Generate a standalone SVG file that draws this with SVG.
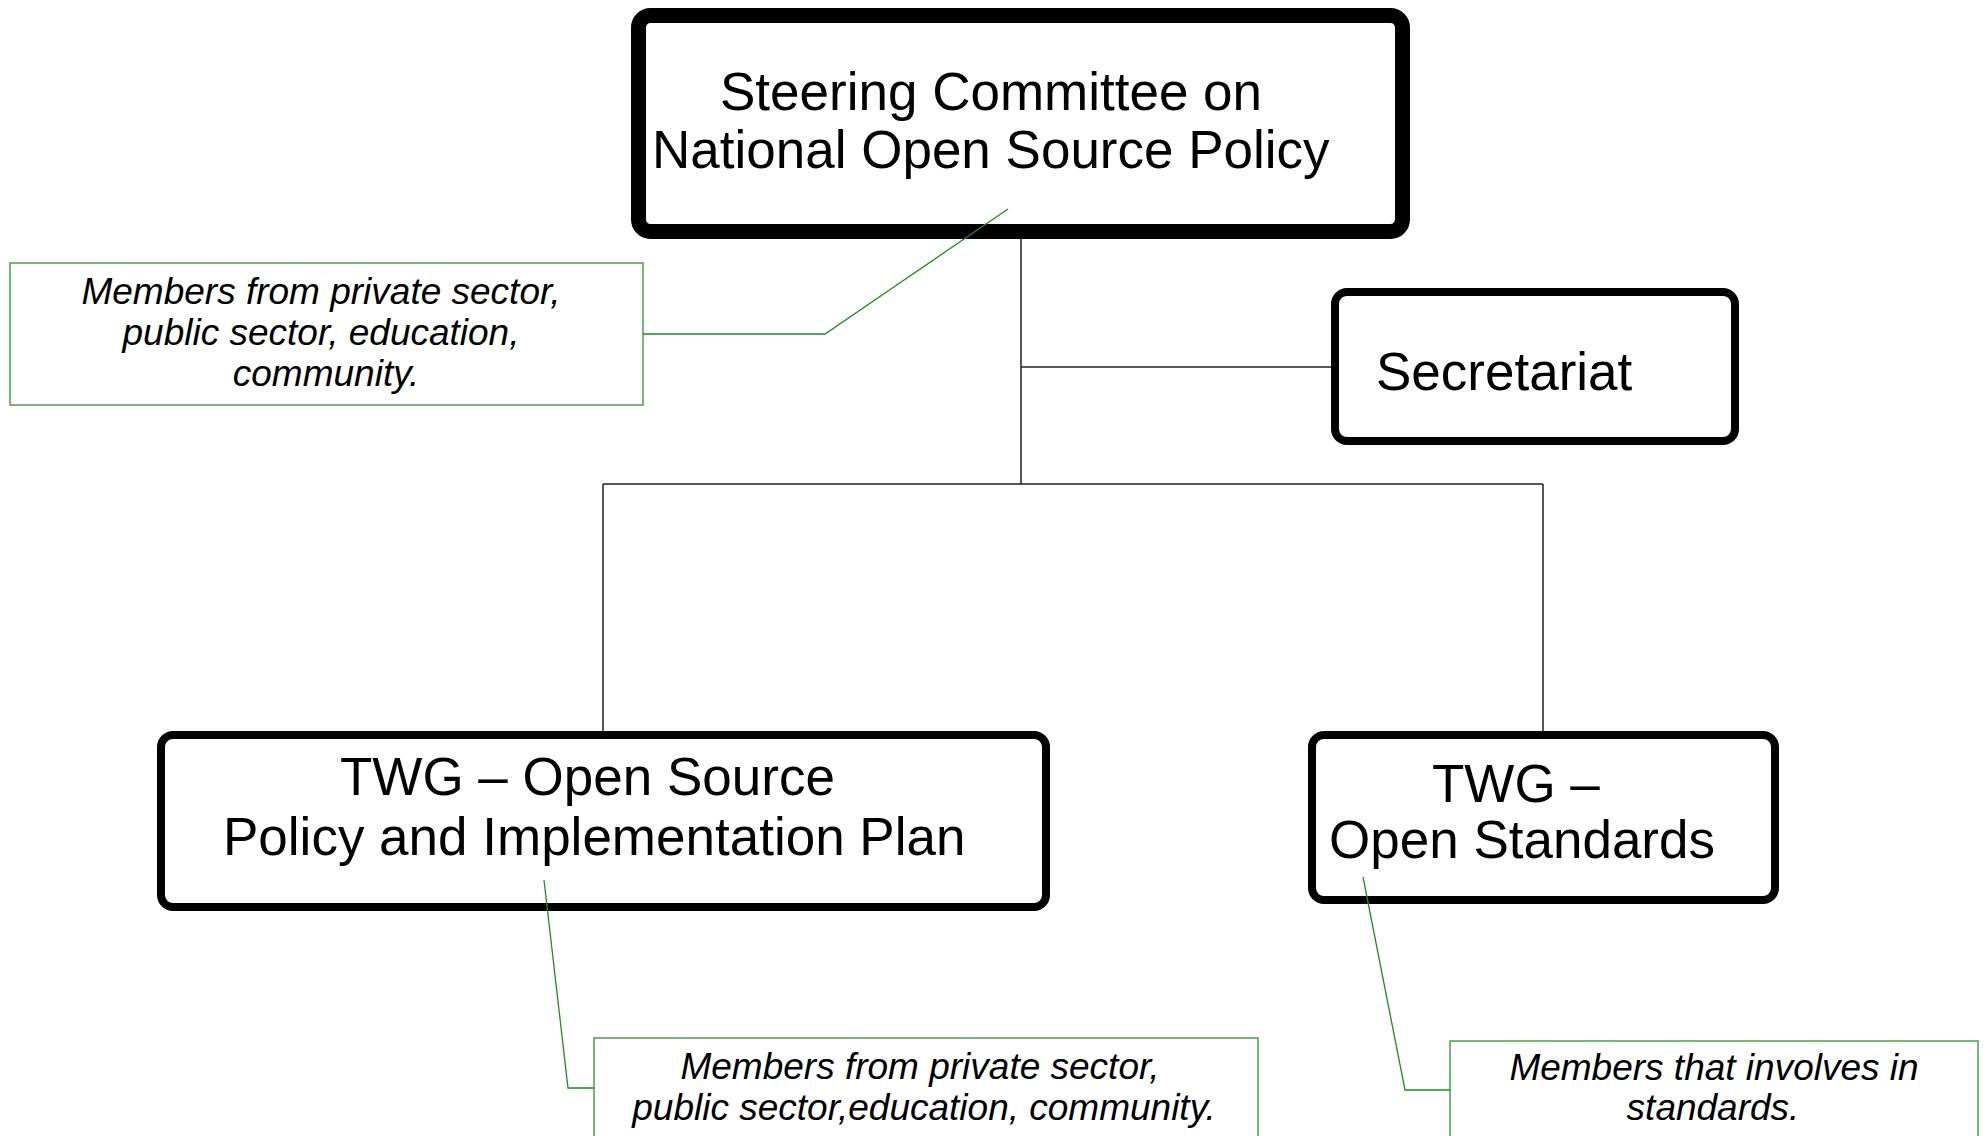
<svg xmlns="http://www.w3.org/2000/svg" width="1988" height="1136" viewBox="0 0 1988 1136">
<style>
.node{fill:#fff;stroke:#000}
.big{font-family:"Liberation Sans",Arial,sans-serif;font-size:53px;fill:#000}
.note{fill:#fff;stroke:#4a9e4a;stroke-width:1.5}
.ntxt{font-family:"Liberation Sans",Arial,sans-serif;font-size:37px;font-style:italic;fill:#000;text-anchor:middle}
.conn{fill:none;stroke:#222;stroke-width:1.5}
.call{fill:none;stroke:#1f8f1f;stroke-width:1.3}
</style>
<rect width="1988" height="1136" fill="#fff"/>
<g id="steering">
<rect class="node" x="638.5" y="15.5" width="764" height="216" rx="12" stroke-width="15"/>
<text class="big" x="720" y="110">Steering Committee on</text>
<text class="big" x="652" y="168">National Open Source Policy</text>
</g>
<g id="secretariat">
<rect class="node" x="1335" y="292" width="400" height="149" rx="12" stroke-width="8"/>
<text class="big" x="1376" y="390">Secretariat</text>
</g>
<g id="twg-policy">
<rect class="node" x="161" y="735" width="885" height="172" rx="12" stroke-width="8"/>
<text class="big" x="340" y="795">TWG – Open Source</text>
<text class="big" x="223" y="855">Policy and Implementation Plan</text>
</g>
<g id="twg-standards">
<rect class="node" x="1312" y="735" width="463" height="165" rx="12" stroke-width="8"/>
<text class="big" x="1432" y="802">TWG –</text>
<text class="big" x="1329" y="858">Open Standards</text>
</g>
<g id="note-steering">
<rect class="note" x="10" y="263" width="633" height="142"/>
<text class="ntxt" x="321" y="304">Members from private sector,</text>
<text class="ntxt" x="321" y="345">public sector, education,</text>
<text class="ntxt" x="326" y="386">community.</text>
</g>
<g id="note-policy">
<rect class="note" x="594" y="1038" width="664" height="120"/>
<text class="ntxt" x="920" y="1079">Members from private sector,</text>
<text class="ntxt" x="924" y="1120">public sector,education, community.</text>
</g>
<g id="note-standards">
<rect class="note" x="1450" y="1041" width="528" height="120"/>
<text class="ntxt" x="1714" y="1080">Members that involves in</text>
<text class="ntxt" x="1713" y="1120">standards.</text>
</g>
<g id="connectors">
<path class="conn" d="M1021,239 V484 M603,484 H1543 M603,484 V731 M1543,484 V731 M1021,367 H1331"/>
<path class="call" d="M1008,209 L825,334 H643"/>
<path class="call" d="M544,880 L568,1088 H594"/>
<path class="call" d="M1363,877 L1405,1090 H1450"/>
</g>
</svg>
